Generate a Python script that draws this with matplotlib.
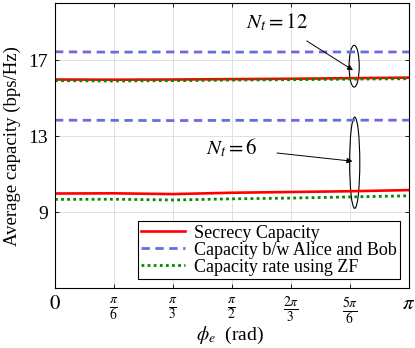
import numpy as np
import matplotlib

matplotlib.use("Agg")

import matplotlib.pyplot as plt
from matplotlib.patches import Ellipse

# phi_e samples (rad)
phi = np.array([0, 1, 2, 3, 4, 5, 6]) * np.pi / 6

# N_t = 12
secrecy_12 = [15.98, 15.97, 15.98, 16.00, 16.02, 16.05, 16.08]
bob_12 = [17.44, 17.42, 17.43, 17.42, 17.43, 17.43, 17.43]
zf_12 = [15.92, 15.90, 15.92, 15.95, 15.97, 16.00, 16.02]

# N_t = 6
secrecy_6 = [9.98, 9.99, 9.95, 10.02, 10.06, 10.10, 10.16]
bob_6 = [13.84, 13.83, 13.82, 13.83, 13.83, 13.84, 13.84]
zf_6 = [9.67, 9.68, 9.64, 9.70, 9.74, 9.80, 9.86]

xtick_labels = [r"$0$", r"$\frac{\pi}{6}$", r"$\frac{\pi}{3}$", r"$\frac{\pi}{2}$",
                r"$\frac{2\pi}{3}$", r"$\frac{5\pi}{6}$", r"$\pi$"]
yticks = [9, 13, 17]

plt.rcParams["font.family"] = ["Liberation Serif", "DejaVu Serif"]
plt.rcParams["mathtext.fontset"] = "stix"

fig = plt.figure(figsize=(4.15, 3.48), dpi=100)
ax = fig.add_axes([0.1325, 0.172, 0.853, 0.819])

red = "#ff0000"
blue = "#6b6be0"
green = "#008a00"

ax.plot(phi, secrecy_12, color=red, lw=1.9, label="Secrecy Capacity")
ax.plot(phi, bob_12, color=blue, lw=2.0, ls=(0, (3, 2)), label="Capacity b/w Alice and Bob")
ax.plot(phi, zf_12, color=green, lw=2.0, ls=(0, (1, 1.2)), label="Capacity rate using ZF")
ax.plot(phi, secrecy_6, color=red, lw=1.9)
ax.plot(phi, bob_6, color=blue, lw=2.0, ls=(0, (3, 2)))
ax.plot(phi, zf_6, color=green, lw=2.0, ls=(0, (1, 1.2)))

ax.set_xlim(0, np.pi)
ax.set_ylim(5, 20)
ax.set_xticks(phi)
ax.set_xticklabels(xtick_labels, fontsize=14, va="top")
ticklabels = ax.get_xticklabels()
ticklabels[0].set_fontsize(15)
ticklabels[-1].set_fontsize(15)
ax.set_yticks(yticks)
ax.tick_params(axis="y", labelsize=14, pad=5)
ax.tick_params(axis="x", pad=5)
ax.tick_params(direction="in", top=True, right=True, length=3, width=0.6)
ax.grid(True, color="#e0e0e0", lw=0.7)
ax.set_axisbelow(True)
for s in ax.spines.values():
    s.set_linewidth(0.8)

ax.set_xlabel(r"$\phi_e$  (rad)", fontsize=14)
ax.xaxis.set_label_coords(0.494, -0.13)
ax.set_ylabel("Average capacity (bps/Hz)", fontsize=13.5, labelpad=5)

# ellipses grouping curves
ax.add_patch(Ellipse((2.655, 16.68), 0.09, 2.2, angle=0, fill=False, lw=0.8, color="black"))
ax.add_patch(Ellipse((2.66, 11.6), 0.09, 4.8, angle=0, fill=False, lw=0.8, color="black"))

ax.annotate(r"$N_t = 12$", xy=(2.645, 16.47), xytext=(1.97, 19.0),
            fontsize=15, ha="center", va="center",
            arrowprops=dict(arrowstyle="-|>", color="black", lw=0.7,
                            shrinkA=7, shrinkB=0, mutation_scale=8))
ax.annotate(r"$N_t = 6$", xy=(2.64, 11.68), xytext=(1.571, 12.37),
            fontsize=15, ha="center", va="center",
            arrowprops=dict(arrowstyle="-|>", color="black", lw=0.7,
                            shrinkA=12, shrinkB=0, mutation_scale=8))

leg = ax.legend(loc="lower right", fontsize=13, frameon=True, fancybox=False,
                edgecolor="black", framealpha=1, borderpad=0.2, labelspacing=0.0,
                handlelength=2.4, handletextpad=0.5, borderaxespad=0.5)
leg.get_frame().set_linewidth(0.8)

fig.savefig("out.png", dpi=100)
